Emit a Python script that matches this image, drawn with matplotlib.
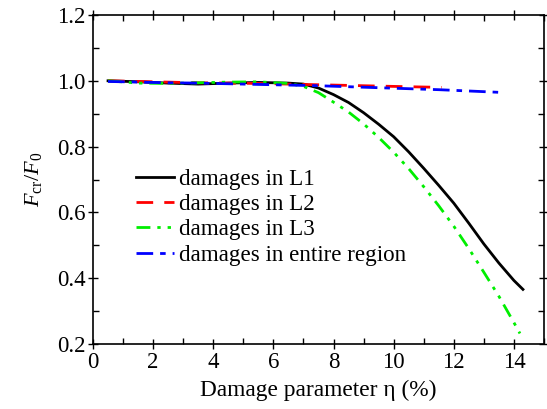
import numpy as np
import matplotlib
matplotlib.use("Agg")
import matplotlib.pyplot as plt
from matplotlib.ticker import MultipleLocator

plt.rcParams['font.family'] = ['Liberation Serif', 'DejaVu Serif']
plt.rcParams['font.serif'] = ['Liberation Serif', 'DejaVu Serif']
plt.rcParams['mathtext.fontset'] = 'custom'
plt.rcParams['mathtext.rm'] = 'Liberation Serif'
plt.rcParams['mathtext.it'] = 'Liberation Serif:italic'

# damage parameter eta (%) and normalised buckling load
eta_l1 = [0.5, 1.5, 2.5, 3.5, 4.5, 5.5, 6.5, 7.0, 7.5, 8.0, 8.5, 9.0, 9.5, 10.0,
          10.5, 11.0, 11.5, 12.0, 12.5, 13.0, 13.5, 14.0, 14.3]
f_l1 = [1.000, 0.997, 0.993, 0.990, 0.993, 0.995, 0.993, 0.990, 0.978, 0.958, 0.934,
        0.903, 0.868, 0.830, 0.784, 0.734, 0.682, 0.628, 0.567, 0.504, 0.446, 0.393, 0.366]

eta_l2 = [0.5, 1.5, 2.5, 3.5, 4.5, 5.5, 6.5, 7.5, 8.5, 9.5, 10.5, 11.6]
f_l2 = [1.000, 0.998, 0.996, 0.994, 0.993, 0.992, 0.990, 0.988, 0.986, 0.984, 0.982, 0.980]

eta_l3 = [0.5, 1.5, 2.5, 3.5, 4.5, 5.5, 6.5, 7.0, 7.5, 8.0, 8.5, 9.0, 9.5, 10.0,
          10.5, 11.0, 11.5, 12.0, 12.5, 13.0, 13.5, 14.0, 14.2]
f_l3 = [1.000, 0.993, 0.992, 0.994, 0.996, 0.997, 0.992, 0.983, 0.964, 0.935, 0.905,
        0.869, 0.828, 0.783, 0.733, 0.678, 0.620, 0.558, 0.490, 0.418, 0.345, 0.265, 0.232]

eta_all = [0.5, 1.5, 2.5, 3.5, 4.5, 5.5, 6.5, 7.5, 8.5, 9.5, 10.5, 11.5, 12.5, 13.5]
f_all = [0.998, 0.996, 0.994, 0.993, 0.991, 0.989, 0.987, 0.985, 0.982, 0.979, 0.976,
         0.973, 0.969, 0.965]

labels = ['damages in L1', 'damages in L2', 'damages in L3', 'damages in entire region']
xticks = [0, 2, 4, 6, 8, 10, 12, 14]
yticks = [0.2, 0.4, 0.6, 0.8, 1.0, 1.2]

fig = plt.figure(figsize=(5.47, 4.09), dpi=100)
ax = fig.add_axes([93 / 547, 1 - 344 / 409, (544 - 93) / 547, (344 - 15) / 409])

ax.plot(eta_l1, f_l1, color='black', lw=2, label=labels[0])
ax.plot(eta_l2, f_l2, color='red', lw=2, dashes=(6, 4), label=labels[1])
ax.plot(eta_l3, f_l3, color='#00ee00', lw=2, dashes=(5, 2.5, 1.2, 2.5, 1.2, 2.5), label=labels[2])
ax.plot(eta_all, f_all, color='blue', lw=2, dashes=(6, 2.5, 2, 2.5), label=labels[3])

ax.set_xlim(0, 15)
ax.set_ylim(0.2, 1.2)
ax.xaxis.set_minor_locator(MultipleLocator(1))
ax.yaxis.set_minor_locator(MultipleLocator(0.1))
ax.set_xticks(xticks)
ax.set_xticklabels([str(v) for v in xticks], fontfamily='Liberation Serif')
ax.set_yticks(yticks)
ax.set_yticklabels(['%.1f' % v for v in yticks], fontfamily='Liberation Serif')

ax.tick_params(which='both', top=True, right=True, labelsize=16.5, width=1)
ax.tick_params(which='major', direction='inout', length=7, pad=2)
ax.tick_params(which='minor', direction='in', length=4)
for s in ax.spines.values():
    s.set_linewidth(1.2)

ax.set_xlabel('Damage parameter η (%)', fontsize=16.8, labelpad=5)
ax.set_ylabel(r'$F_{\rm cr}/F_{\rm 0}$', fontsize=16, labelpad=9)

ax.legend(loc='upper left', bbox_to_anchor=(0.07, 0.568), frameon=False,
          fontsize=16.6, handlelength=1.65, handletextpad=0.2, labelspacing=0.18,
          borderpad=0)

fig.savefig('out.png', dpi=100)
